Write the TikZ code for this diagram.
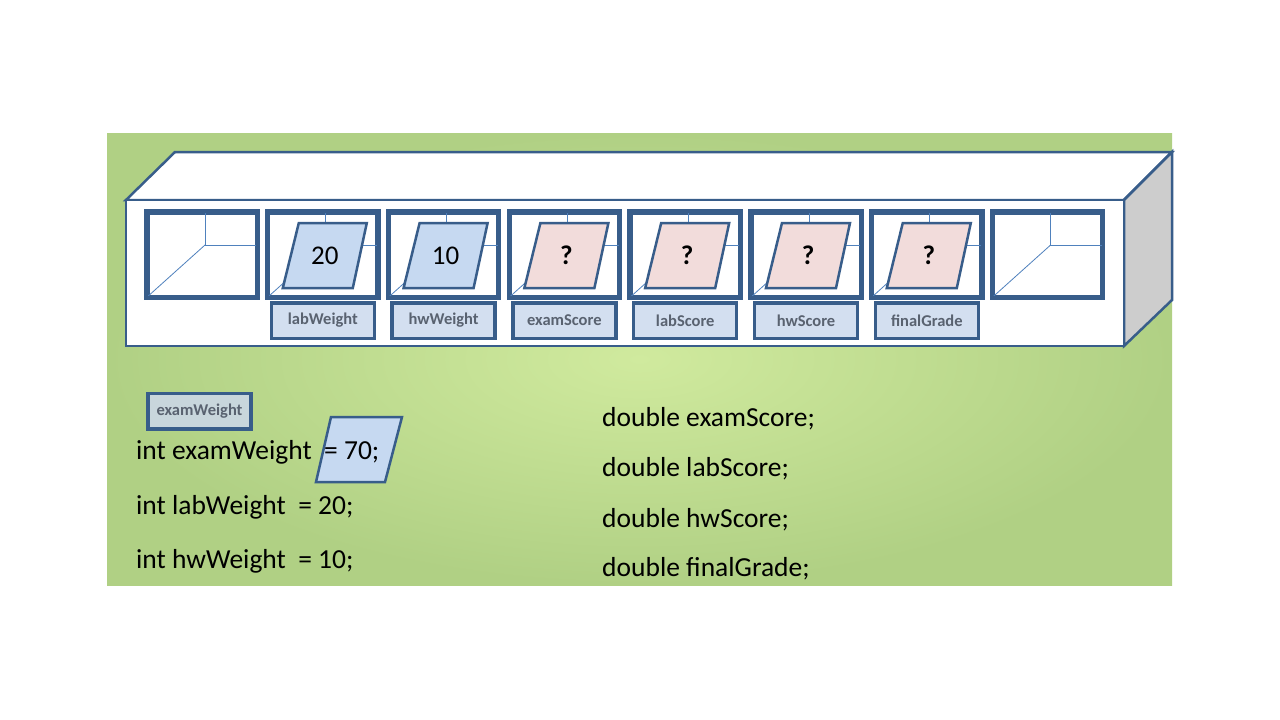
\documentclass[tikz,border=0pt]{standalone}
\usepackage{fontspec}
\setmainfont{Carlito}
\usetikzlibrary{positioning}
\definecolor{boxline}{RGB}{56,93,138}
\definecolor{thinline}{RGB}{79,129,189}
\definecolor{valblue}{RGB}{198,217,241}
\definecolor{valpink}{RGB}{242,220,219}
\definecolor{tagfill}{RGB}{211,223,240}
\definecolor{taggray}{RGB}{200,214,220}
\definecolor{tagtext}{RGB}{89,98,112}
\definecolor{panelin}{RGB}{208,234,158}
\definecolor{panelout}{RGB}{176,208,132}
\definecolor{sidegray}{RGB}{205,205,205}
\begin{document}
\begin{tikzpicture}[x=1pt,y=-1pt,
    cell/.style={draw=boxline,line width=3.5pt,fill=white,minimum width=108.5pt,minimum height=83.5pt,inner sep=0pt},
    tag/.style={draw=boxline,line width=3.5pt,fill=tagfill,minimum width=103pt,minimum height=35.5pt,inner sep=0pt,text=tagtext,font=\fontsize{16.5}{20}\selectfont\bfseries},
    val/.style={draw=boxline,line width=2.5pt},
    code/.style={anchor=base west,inner sep=0pt,font=\fontsize{27.5}{33}\selectfont}]
        \useasboundingbox (0,0) rectangle (1280,720);
        \fill[white] (0,0) rectangle (1280,720);
        \shade[inner color=panelin,outer color=panelout] (107,133) rectangle (1172,585);
        % the box
        \draw[boxline,line width=2.5pt,fill=white] (126,200) -- (175,152) -- (1172,152) -- (1124,200) -- cycle;
        \draw[boxline,line width=2.5pt,fill=sidegray] (1124,200) -- (1172,152) -- (1172,300) -- (1124,346) -- cycle;
        \draw[boxline,line width=2.5pt,fill=white] (126,200) rectangle (1124,346);
        % cells
        \foreach \i in {0,...,7} {
            \pgfmathsetmacro\xl{146+120.8*\i}
            \node[cell] (c\i) at (\xl+56,254.5) {};
            \draw[thinline,line width=0.8pt] (c\i.north -| {\xl+59},0) -- (\xl+59,245) -- (c\i.east |- 0,245);
            \draw[thinline,line width=0.8pt] (\xl+59,245) -- (c\i.south west);
            \draw[boxline,line width=3.5pt] (c\i.north west) rectangle (c\i.south east);
        }
        % values
        \foreach \i/\v/\col/\f in {1/20/valblue/,2/10/valblue/,3/?/valpink/\bfseries,4/?/valpink/\bfseries,5/?/valpink/\bfseries,6/?/valpink/\bfseries} {
            \pgfmathsetmacro\xl{146+120.8*\i}
            \draw[val,fill=\col] (\xl+32,223) -- (\xl+100,223) -- (\xl+86,288) -- (\xl+16,288) -- cycle;
            \node[font=\fontsize{27}{32}\selectfont\f] (v\i) at (\xl+58,255.5) {\v};
        }
        % names
        \foreach \i/\n in {1/labWeight,2/hwWeight,3/examScore,4/labScore,5/hwScore,6/finalGrade}
            \node[tag,below=3pt of c\i] (t\i) {\n};
        % declarations
        \node[tag,fill=taggray] (t0) at (199.5,411) {examWeight};
        \draw[val,fill=valblue] (331,417) -- (402,417) -- (385,482) -- (316,482) -- cycle;
        \node[code] (d1) at (136,459) {int examWeight\ \ = 70;};
        \node[code] (d2) at (136,514) {int labWeight\ \ = 20;};
        \node[code] (d3) at (136,568) {int hwWeight\ \ = 10;};
        \node[code] (d4) at (602,426) {double examScore;};
        \node[code] (d5) at (602,476) {double labScore;};
        \node[code] (d6) at (602,527) {double hwScore;};
        \node[code] (d7) at (602,576) {double finalGrade;};
    \end{tikzpicture}
\end{document}
